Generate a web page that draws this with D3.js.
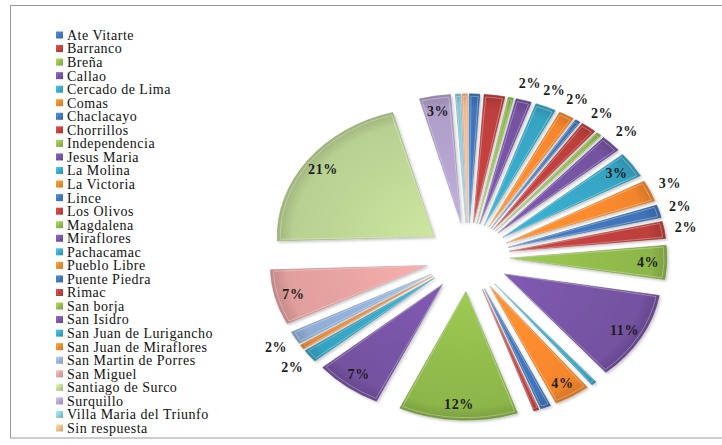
<!DOCTYPE html>
<html>
<head>
<meta charset="utf-8">
<script src="https://cdn.jsdelivr.net/npm/d3@7"></script>
<style>
  html, body { margin: 0; padding: 0; background: #fff; }
  svg { display: block; }
</style>
</head>
<body>
<svg id="chart" width="722" height="445"></svg>
<script>
// Districts of residence of respondents (count per district)
const categories = [
  "Ate Vitarte", "Barranco", "Breña", "Callao", "Cercado de Lima", "Comas",
  "Chaclacayo", "Chorrillos", "Independencia", "Jesus Maria", "La Molina", "La Victoria",
  "Lince", "Los Olivos", "Magdalena", "Miraflores", "Pachacamac", "Pueblo Libre",
  "Puente Piedra", "Rimac", "San borja", "San Isidro", "San Juan de Lurigancho", "San Juan de Miraflores",
  "San Martin de Porres", "San Miguel", "Santiago de Surco", "Surquillo", "Villa Maria del Triunfo", "Sin respuesta"
];
const counts = [
  2, 4, 1, 3, 4, 3,
  1, 3, 1, 4, 6, 5,
  3, 4, 8, 21, 1, 7,
  2, 1, 23, 13, 3, 1,
  3, 13, 40, 6, 1, 1
];
const colors = [
  "#3F73B8", "#BC3F3C", "#8DB64A", "#7452A0", "#36A3C2", "#F3862C",
  "#3F73B8", "#BC3F3C", "#8DB64A", "#7452A0", "#36A3C2", "#F3862C",
  "#3F73B8", "#BC3F3C", "#8DB64A", "#7452A0", "#36A3C2", "#F3862C",
  "#3F73B8", "#BC3F3C", "#8DB64A", "#7452A0", "#36A3C2", "#F3862C",
  "#8FADD4", "#E09E9C", "#B8D091", "#AE9DC8", "#88C5D8", "#F7B683"
];
// slices that carry a percentage label, and which of those sit inside the slice
const labelled = [
  "Callao", "Cercado de Lima", "Comas", "Chorrillos", "Jesus Maria", "La Molina",
  "La Victoria", "Lince", "Los Olivos", "Magdalena", "Miraflores", "Pueblo Libre",
  "San borja", "San Isidro", "San Juan de Lurigancho", "San Martin de Porres",
  "San Miguel", "Santiago de Surco", "Surquillo"
];
const insideLabels = [
  "La Molina", "Magdalena", "Miraflores", "Pueblo Libre", "San borja",
  "San Isidro", "San Miguel", "Santiago de Surco", "Surquillo"
];

const FONT = '"Liberation Serif"';

const data = categories.map((name, i) => ({ name, count: counts[i], color: colors[i] }));
const total = d3.sum(counts);
const fmtPct = d3.format(".0%");

const svg = d3.select("#chart");

// outer frame
svg.append("rect")
  .attr("x", 10.5).attr("y", 5.5)
  .attr("width", 730).attr("height", 432.5)
  .attr("fill", "none").attr("stroke", "#9a9a9a").attr("stroke-width", 1);

const defs = svg.append("defs");

// soft shadow under each slice
const shadow = defs.append("filter").attr("id", "shadow")
  .attr("x", "-20%").attr("y", "-20%").attr("width", "140%").attr("height", "140%");
shadow.append("feDropShadow")
  .attr("dx", 1.5).attr("dy", 2).attr("stdDeviation", 1.6)
  .attr("flood-color", "#000").attr("flood-opacity", 0.22);

// bevel-like shading per colour
const uniqueColors = Array.from(new Set(colors));
const gradId = c => "g" + c.slice(1);
uniqueColors.forEach(c => {
  const base = d3.color(c);
  const g = defs.append("radialGradient").attr("id", gradId(c))
    .attr("gradientUnits", "userSpaceOnUse")
    .attr("cx", 0).attr("cy", 0).attr("r", 160);
  g.append("stop").attr("offset", "0%").attr("stop-color", base.brighter(0.3));
  g.append("stop").attr("offset", "55%").attr("stop-color", base.brighter(0.1));
  g.append("stop").attr("offset", "88%").attr("stop-color", base);
  g.append("stop").attr("offset", "100%").attr("stop-color", base.darker(0.5));

  const lg = defs.append("linearGradient").attr("id", "l" + c.slice(1))
    .attr("x1", 0).attr("y1", 0).attr("x2", 1).attr("y2", 1);
  lg.append("stop").attr("offset", "0%").attr("stop-color", base.brighter(0.6));
  lg.append("stop").attr("offset", "100%").attr("stop-color", base.darker(0.4));
});

// pie geometry
const cx = 468, cy = 257;
const R = 157;          // radius
const tilt = 0.82;      // vertical squash of the tilted disc
const explode = 42;     // radial offset of every slice

const pie = d3.pie().sort(null).value(d => d.count);
const arcs = pie(data);
const arc = d3.arc().innerRadius(0).outerRadius(R);
const explodeArc = d3.arc().innerRadius(explode).outerRadius(explode);
const insideArc = d3.arc().innerRadius(R * 0.88).outerRadius(R * 0.88);
const outsideArc = d3.arc().innerRadius(R * 1.14).outerRadius(R * 1.14);

const pieG = svg.append("g")
  .attr("transform", `translate(${cx},${cy}) scale(1,${tilt})`);

const slices = pieG.selectAll("g.slice")
  .data(arcs)
  .join("g")
  .attr("class", "slice")
  .attr("transform", d => {
    const [ox, oy] = explodeArc.centroid(d);
    return `translate(${ox},${oy})`;
  });

slices.append("path")
  .attr("d", arc)
  .attr("fill", d => `url(#${gradId(d.data.color)})`)
  .attr("stroke", d => d3.color(d.data.color).darker(0.6))
  .attr("stroke-width", 0.8)
  .attr("stroke-opacity", 0.7)
  .attr("vector-effect", "non-scaling-stroke")
  .attr("filter", "url(#shadow)");

// light inner rim that gives the raised look
slices.append("path")
  .attr("d", d3.arc().innerRadius(0).outerRadius(R - 3)
    .startAngle(d => d.startAngle + Math.min(0.012, (d.endAngle - d.startAngle) * 0.15))
    .endAngle(d => d.endAngle - Math.min(0.012, (d.endAngle - d.startAngle) * 0.15)))
  .attr("fill", "none")
  .attr("stroke", "#fff")
  .attr("stroke-opacity", 0.3)
  .attr("stroke-width", 1)
  .attr("vector-effect", "non-scaling-stroke");

// percentage labels
const labelG = svg.append("g");
arcs.filter(d => labelled.includes(d.data.name)).forEach(d => {
  const [ox, oy] = explodeArc.centroid(d);
  const inside = insideLabels.includes(d.data.name);
  const [lx, ly] = (inside ? insideArc : outsideArc).centroid(d);
  labelG.append("text")
    .attr("x", cx + ox + lx)
    .attr("y", cy + (oy + ly) * tilt)
    .attr("dy", "0.35em")
    .attr("text-anchor", "middle")
    .style("font-family", FONT)
    .attr("font-size", 14)
    .attr("font-weight", "bold")
    .attr("letter-spacing", 0.6)
    .attr("fill", "#1d1d1d")
    .text(fmtPct(d.data.count / total));
});

// legend
const legend = svg.append("g");
const legendY = d3.scalePoint().domain(categories).range([35, 428]);
const items = legend.selectAll("g")
  .data(data)
  .join("g")
  .attr("transform", d => `translate(56,${legendY(d.name)})`);
items.append("rect")
  .attr("x", 0).attr("y", -3.5)
  .attr("width", 7).attr("height", 7)
  .attr("fill", d => `url(#l${d.color.slice(1)})`);
items.append("text")
  .attr("x", 11).attr("y", 0).attr("dy", "0.35em")
  .style("font-family", FONT)
  .attr("font-size", 14)
  .attr("letter-spacing", 0.5)
  .attr("fill", "#111")
  .text(d => d.name);
</script>
</body>
</html>
